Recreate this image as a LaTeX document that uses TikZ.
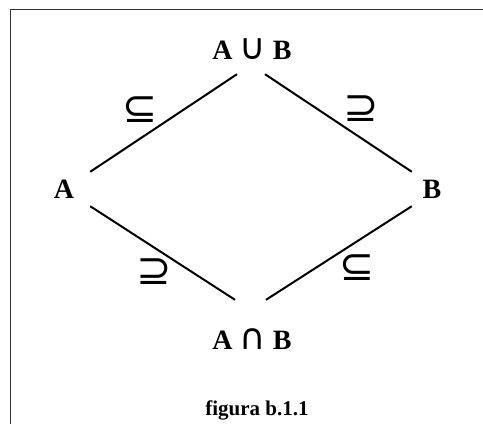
\documentclass[tikz,border=0pt]{standalone}
\usepackage{fontspec}
\setmainfont{Liberation Serif}
\newfontfamily\symfont{DejaVu Sans}
\usepackage{tikz}
\usetikzlibrary{positioning}

\begin{document}
\begin{tikzpicture}[
  x=1pt, y=-1pt,
  set/.style={inner sep=0pt, font=\fontsize{28}{30}\selectfont\bfseries},
  rel/.style={inner sep=0pt, font=\fontsize{42}{44}\symfont},
  ln/.style={line width=2pt}
]
\useasboundingbox (0,0) rectangle (483,424);
% frame (only top and left edges show)
\draw[line width=1.2pt, black!80] (483,9.5) -- (10.5,9.5) -- (10.5,424);

\node[set, minimum height=50pt] (union) at (252,49) {A {\fontsize{36}{36}\symfont\mdseries ∪} B};
\node[set, minimum width=52pt, minimum height=34pt] (a) at (64,189) {A};
\node[set, minimum width=40pt, minimum height=34pt] (b) at (432,189) {B};
\node[set, minimum height=78pt] (inter) at (252,339) {A {\fontsize{36}{36}\symfont\mdseries ∩} B};

\draw[ln] (a.north east) -- ([xshift=-15pt]union.south);
\draw[ln] ([xshift=13pt]union.south) -- (b.north west);
\draw[ln] (a.south east) -- ([xshift=-17pt]inter.north);
\draw[ln] ([xshift=14pt]inter.north) -- (b.south west);

\node[rel] (sub1) at (140,110) {⊆};
\node[rel] (sup1) at (361,109) {⊇};
\node[rel] (sup2) at (154,272) {⊇};
\node[rel] (sub2) at (357,268) {⊆};

\node[font=\fontsize{21}{23}\selectfont\bfseries] (cap) at (257,410) {figura b.1.1};
\end{tikzpicture}
\end{document}
